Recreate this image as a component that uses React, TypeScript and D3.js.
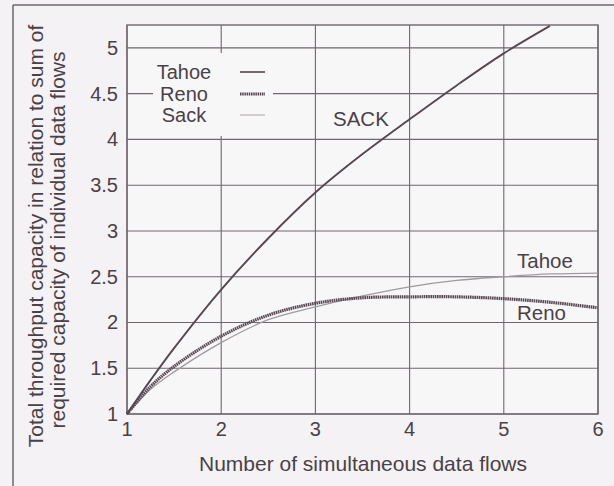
import React from 'react';
import * as d3 from 'd3';

const flows = [1, 1.25, 1.5, 2, 2.5, 3, 3.5, 4, 4.5, 5, 5.5, 6];
const renoValues = [1, 1.3, 1.52, 1.85, 2.08, 2.21, 2.27, 2.28, 2.28, 2.26, 2.22, 2.16];
const tahoeValues = [1, 1.27, 1.46, 1.78, 2.03, 2.17, 2.29, 2.39, 2.46, 2.5, 2.53, 2.54];
const sackFlows = [1, 1.25, 1.5, 2, 2.5, 3, 3.5, 4, 4.5, 5, 5.49];
const sackValues = [1, 1.37, 1.72, 2.36, 2.92, 3.42, 3.84, 4.22, 4.59, 4.94, 5.24];

const xTicks = [1, 2, 3, 4, 5, 6];
const yTicks = [1, 1.5, 2, 2.5, 3, 3.5, 4, 4.5, 5];
const legendItems = ['Tahoe', 'Reno', 'Sack'];

const W = 614;
const H = 486;
const LEFT = 127;
const RIGHT = 598;
const TOP = 25;
const BOTTOM = 414;

const INK = '#554751';
const GRID = '#716670';
const TEXT = '#4a4148';
const FONT = 'Liberation Sans, Arial, sans-serif';

type Pt = [number, number];

const App = () => {
  const x = d3.scaleLinear().domain([1, 6]).range([LEFT, RIGHT]);
  const y = d3.scaleLinear().domain([1, 5.25]).range([BOTTOM, TOP]);

  const line = d3.line<Pt>()
    .x(d => x(d[0]))
    .y(d => y(d[1]))
    .curve(d3.curveCatmullRom.alpha(0.5));

  const reno = line(flows.map((f, i) => [f, renoValues[i]] as Pt));
  const tahoe = line(flows.map((f, i) => [f, tahoeValues[i]] as Pt));
  const sack = line(sackFlows.map((f, i) => [f, sackValues[i]] as Pt));

  const legendY = [72, 94, 115];

  return (
    <div style={{ position: 'absolute', left: 0, top: 0 }}>
      <svg width={W} height={H} style={{ display: 'block' }}>
        <rect x={0} y={0} width={W} height={H} fill="#f4f2f4" />
        {/* outer frame of the figure */}
        <line x1={13} x2={13} y1={5} y2={H} stroke={GRID} strokeWidth={1.5} />
        <line x1={13} x2={W} y1={5} y2={5} stroke={GRID} strokeWidth={1.5} />

        <rect x={LEFT} y={TOP} width={RIGHT - LEFT} height={BOTTOM - TOP} fill="#f8f7f8" />

        {/* grid */}
        {yTicks.map(t => (
          <line key={'gy' + t} x1={LEFT} x2={RIGHT} y1={y(t)} y2={y(t)} stroke={GRID} strokeWidth={1.1} />
        ))}
        {xTicks.map(t => (
          <line key={'gx' + t} x1={x(t)} x2={x(t)} y1={TOP} y2={BOTTOM} stroke={GRID} strokeWidth={1.1} />
        ))}
        <rect x={LEFT} y={TOP} width={RIGHT - LEFT} height={BOTTOM - TOP} fill="none" stroke={GRID} strokeWidth={1.4} />

        {/* legend box hides the grid */}
        <rect x={153} y={53} width={120} height={83} fill="#f8f7f8" />
        {legendItems.map((name, i) => (
          <g key={name}>
            <text x={184} y={legendY[i] + 7} textAnchor="middle" fontSize={20} fontFamily={FONT} fill={TEXT}>
              {name}
            </text>
            <line
              x1={240}
              x2={265}
              y1={legendY[i]}
              y2={legendY[i]}
              stroke={i === 2 ? '#aaa2a8' : INK}
              strokeWidth={i === 1 ? 3 : i === 0 ? 1.6 : 1}
              strokeDasharray={i === 1 ? '1.5 0.7' : undefined}
            />
          </g>
        ))}

        {/* curves */}
        <path d={tahoe ?? ''} fill="none" stroke="#a19aa0" strokeWidth={1.3} />
        <path d={reno ?? ''} fill="none" stroke="#5a4a55" strokeWidth={3.2} strokeDasharray="1.6 0.6" />
        <path d={sack ?? ''} fill="none" stroke={INK} strokeWidth={1.9} />

        {/* curve labels */}
        <text x={333} y={126} fontSize={20.5} fontFamily={FONT} fill={TEXT}>SACK</text>
        <text x={517} y={268} fontSize={20.5} fontFamily={FONT} fill={TEXT}>Tahoe</text>
        <text x={517} y={320} fontSize={20.5} fontFamily={FONT} fill={TEXT}>Reno</text>

        {/* y tick labels */}
        {yTicks.map(t => (
          <text key={'ly' + t} x={118} y={y(t) + 7} textAnchor="end" fontSize={20} fontFamily={FONT} fill={TEXT}>
            {String(t)}
          </text>
        ))}
        {/* x tick labels */}
        {xTicks.map(t => (
          <text key={'lx' + t} x={x(t)} y={436} textAnchor="middle" fontSize={20} fontFamily={FONT} fill={TEXT}>
            {String(t)}
          </text>
        ))}

        <text x={363} y={471} textAnchor="middle" fontSize={21} fontFamily={FONT} fill={TEXT}>
          Number of simultaneous data flows
        </text>
        <text transform="translate(43,236) rotate(-90)" textAnchor="middle" fontSize={21} fontFamily={FONT} fill={TEXT}>
          Total throughput capacity in relation to sum of
        </text>
        <text transform="translate(65,240) rotate(-90)" textAnchor="middle" fontSize={21} fontFamily={FONT} fill={TEXT}>
          required capacity of individual data flows
        </text>
      </svg>
    </div>
  );
};

export default App;
